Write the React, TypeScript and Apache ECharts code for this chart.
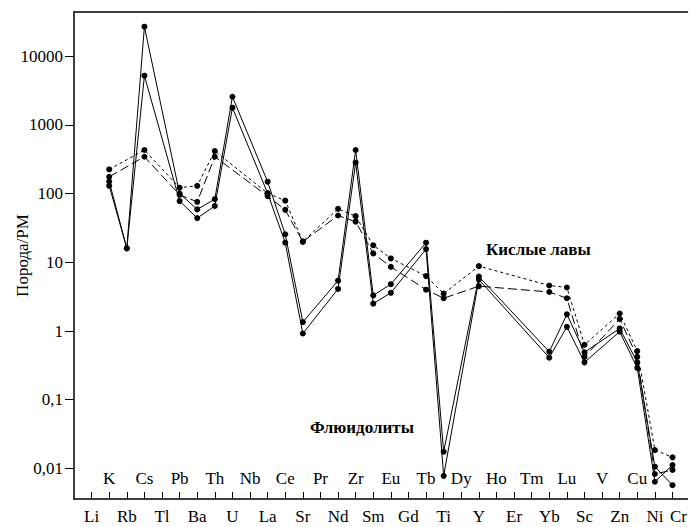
import React, { useEffect, useRef } from 'react';
import * as echarts from 'echarts';

const elements = ['Li', 'K', 'Rb', 'Cs', 'Tl', 'Pb', 'Ba', 'Th', 'U', 'Nb', 'La', 'Ce', 'Sr', 'Pr', 'Nd', 'Zr', 'Sm', 'Eu', 'Gd', 'Tb', 'Ti', 'Dy', 'Y', 'Ho', 'Er', 'Tm', 'Yb', 'Lu', 'Sc', 'V', 'Zn', 'Cu', 'Ni', 'Cr'];
// labels drawn inside the plot (upper row); all others are drawn below the axis
const innerLabels = ['K', 'Cs', 'Pb', 'Th', 'Nb', 'Ce', 'Pr', 'Zr', 'Eu', 'Tb', 'Dy', 'Ho', 'Tm', 'Lu', 'V', 'Cu'];

const yTickValues = [0.01, 0.1, 1, 10, 100, 1000, 10000];

// Флюидолиты (solid)
const fluidolite1 = [null, 150, 16, 26900, null, 100, 59, 83, 2570, null, 149, 25.6, 1.35, null, 5.4, 431, 3.3, 4.8, null, 19.3, 0.0175, null, 6.2, null, null, null, 0.5, 1.75, 0.49, null, 1.09, 0.35, 0.0106, 0.0057];
const fluidolite2 = [null, 130, 16, 5200, null, 78, 44, 66, 1780, null, 101, 19.3, 0.92, null, 4.1, 282, 2.5, 3.6, null, 15.6, 0.0078, null, 5.6, null, null, null, 0.41, 1.15, 0.35, null, 0.98, 0.29, 0.0064, 0.0112];
// Кислые лавы (dashed)
const lava1 = [null, 225, null, 431, null, 122, 130, 417, null, null, 101, 79, 20, null, 60, 47, 17.7, 11.4, null, 6.3, 3.5, null, 8.8, null, null, null, 4.6, 4.3, 0.63, null, 1.8, 0.51, 0.0185, 0.0145];
const lava2 = [null, 176, null, 344, null, 96, 76, 344, null, null, 92, 58, 20, null, 48, 39, 13.5, 8.6, null, 4.0, 3.0, null, 4.5, null, null, null, 3.7, 3.0, 0.42, null, 1.5, 0.42, 0.0083, 0.0095];

const FONT = 'Liberation Serif, Times New Roman, serif';

const toPairs = (vals: (number | null)[]) =>
  vals.map((v, i) => (v == null ? null : [i, v])).filter((p) => p != null) as number[][];

export default function App() {
  const ref = useRef<HTMLDivElement>(null);

  useEffect(() => {
    if (!ref.current) return;
    const chart = echarts.init(ref.current, null, { renderer: 'svg' });
    const allIdx = elements.map((_, i) => i);
    const innerIdx = allIdx.filter((i) => innerLabels.includes(elements[i]));
    const outerIdx = allIdx.filter((i) => !innerLabels.includes(elements[i]));
    const lastIdx = elements.length - 1;
    const xMin = -1;
    const xMax = 33.85;
    const labelStyle = { fontFamily: FONT, fontSize: 17, color: '#000' };
    const lineSeries = (name: string, vals: (number | null)[], type: any) => ({
      name,
      type: 'line',
      data: toPairs(vals),
      symbol: 'circle',
      symbolSize: 6,
      itemStyle: { color: '#000' },
      lineStyle: { color: '#000', width: 1, type },
      xAxisIndex: 0,
      yAxisIndex: 0,
    });
    chart.setOption({
      animation: false,
      backgroundColor: '#fff',
      grid: { left: 74, right: 0, top: 12, bottom: 28, containLabel: false },
      xAxis: [
        {
          type: 'value', min: xMin, max: xMax, position: 'bottom',
          axisLine: { show: true, onZero: false, lineStyle: { color: '#000', width: 1.5 } },
          axisTick: { show: true, inside: true, length: 7, customValues: allIdx, lineStyle: { color: '#000', width: 1 } },
          axisLabel: {
            customValues: outerIdx,
            formatter: (v: number) => (v === lastIdx ? `{shift|${elements[v]}}` : elements[v] ?? ''),
            rich: { shift: { padding: [0, 0, 0, 12], fontFamily: FONT, fontSize: 17, color: '#000' } },
            margin: 9,
            ...labelStyle,
          },
          splitLine: { show: false },
        },
        {
          type: 'value', min: xMin, max: xMax, position: 'bottom',
          axisLine: { show: false, onZero: false },
          axisTick: { show: false },
          axisLabel: { inside: true, customValues: innerIdx, formatter: (v: number) => elements[v] ?? '', margin: 12, ...labelStyle },
          splitLine: { show: false },
        },
        {
          type: 'value', min: xMin, max: xMax, position: 'top',
          axisLine: { show: true, onZero: false, lineStyle: { color: '#000', width: 1.5 } },
          axisTick: { show: false },
          axisLabel: { show: false },
          splitLine: { show: false },
        },
      ],
      yAxis: {
        type: 'log', min: 0.00359, max: 44000,
        axisLine: { show: true, onZero: false, lineStyle: { color: '#000', width: 1.5 } },
        axisTick: { show: true, length: 9, customValues: yTickValues, lineStyle: { color: '#000', width: 1 } },
        axisLabel: { customValues: yTickValues, formatter: (v: number) => String(v).replace('.', ','), margin: 11, ...labelStyle },
        minorTick: { show: false },
        splitLine: { show: false },
        name: 'Порода/PM', nameLocation: 'middle', nameGap: 43, nameMoveOverlap: false,
        nameTextStyle: { fontFamily: FONT, fontSize: 17, color: '#000' },
      },
      graphic: [
        { type: 'text', left: 486, top: 241, style: { text: 'Кислые лавы', fontFamily: FONT, fontWeight: 'bold', fontSize: 17, fill: '#000' } },
        { type: 'text', left: 310, top: 419, style: { text: 'Флюидолиты', fontFamily: FONT, fontWeight: 'bold', fontSize: 17, fill: '#000' } },
      ],
      series: [
        lineSeries('Флюидолиты 1', fluidolite1, 'solid'),
        lineSeries('Флюидолиты 2', fluidolite2, 'solid'),
        lineSeries('Кислые лавы 1', lava1, [3, 3]),
        lineSeries('Кислые лавы 2', lava2, [9, 4]),
      ],
    });
    return () => chart.dispose();
  }, []);

  return <div ref={ref} style={{ position: 'absolute', left: 0, top: 0, width: 690, height: 527 }} />;
}
